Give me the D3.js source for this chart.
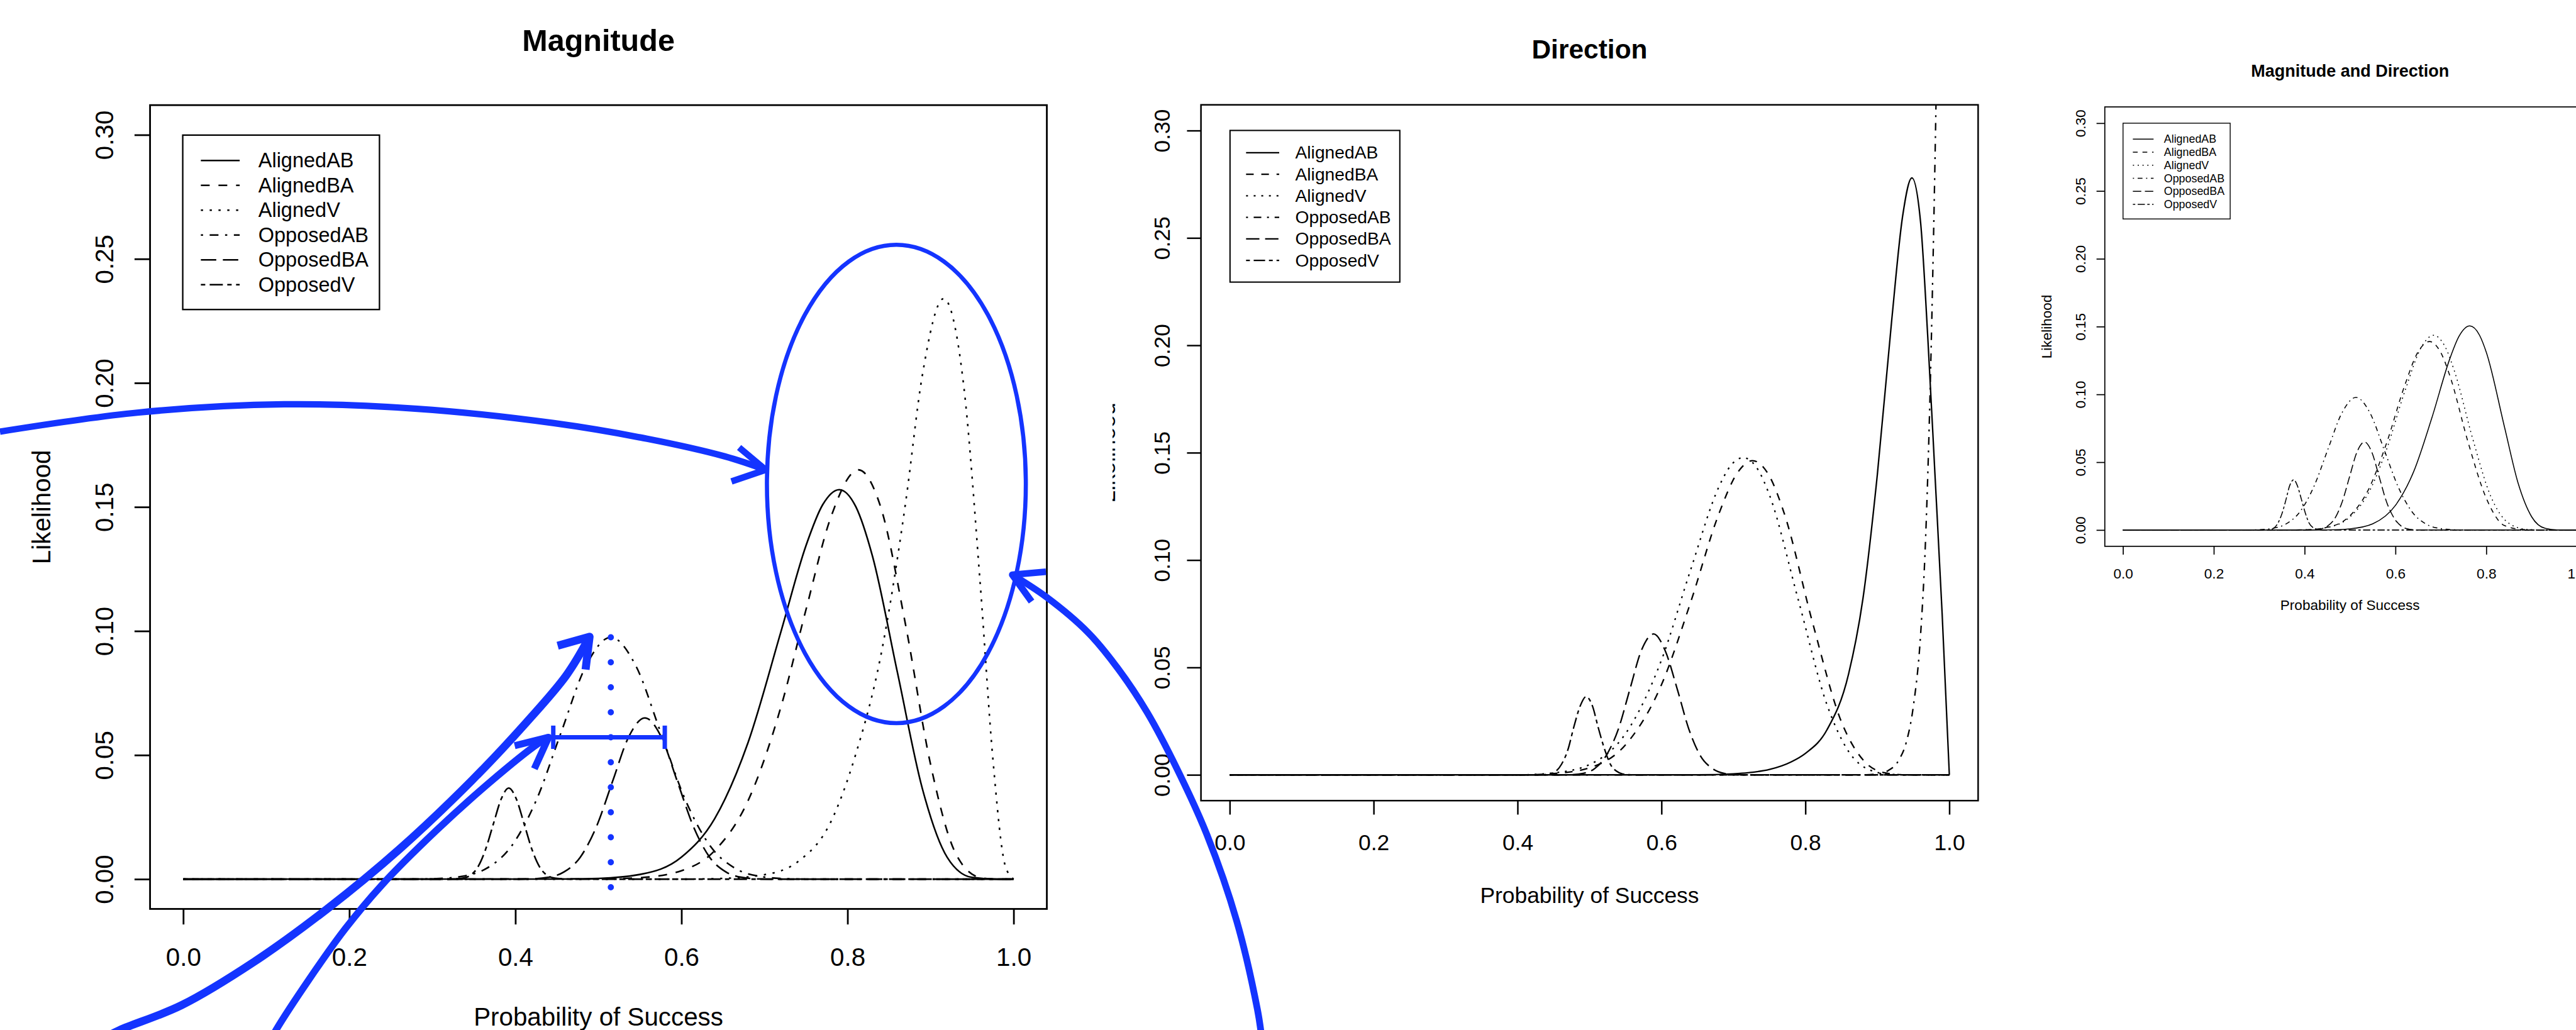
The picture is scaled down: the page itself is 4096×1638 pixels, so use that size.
<!DOCTYPE html>
<html>
<head>
<meta charset="utf-8">
<script src="https://cdn.jsdelivr.net/npm/d3@7"></script>
<style>html,body{margin:0;padding:0;background:#fff;overflow:hidden}</style>
</head>
<body>
<script>
// ---------------- DATA ----------------
const panelTitles = ["Magnitude", "Direction", "Magnitude and Direction"];
const seriesNames = ["AlignedAB", "AlignedBA", "AlignedV", "OpposedAB", "OpposedBA", "OpposedV"];
const xTicks = [0, 0.2, 0.4, 0.6, 0.8, 1.0];
const yTicks = [0, 0.05, 0.10, 0.15, 0.20, 0.25, 0.30];
const xLabel = "Probability of Success";
const yLabel = "Likelihood";

// Panel 1: Magnitude  [probability, likelihood]
const magAlignedAB = [[0,0],[0.45,0.00003],[0.5,0.0003],[0.55,0.0019],[0.6,0.0089],[0.64,0.0244],[0.68,0.0549],[0.72,0.100],[0.75,0.1345],[0.77,0.1509],[0.79,0.157],[0.81,0.1501],[0.83,0.1302],[0.86,0.0834],[0.89,0.0366],[0.92,0.0088],[0.95,0.0007],[0.98,0],[1,0]];
const magAlignedBA = [[0,0],[0.5,0.0001],[0.55,0.0006],[0.6,0.0034],[0.64,0.0115],[0.68,0.0315],[0.72,0.0697],[0.75,0.1087],[0.78,0.146],[0.813,0.165],[0.84,0.1499],[0.87,0.1023],[0.9,0.0462],[0.93,0.0105],[0.96,0.0006],[0.98,0],[1,0]];
const magAlignedV = [[0,0],[0.6,0],[0.65,0.0003],[0.7,0.0018],[0.74,0.007],[0.78,0.0232],[0.81,0.0505],[0.84,0.090],[0.87,0.152],[0.89,0.203],[0.9157,0.234],[0.94,0.1986],[0.96,0.118],[0.975,0.0485],[0.99,0.0053],[1,0]];
const magOpposedAB = [[0,0],[0.275,0],[0.305,0.0002],[0.335,0.0011],[0.365,0.0043],[0.395,0.0132],[0.425,0.0317],[0.455,0.0591],[0.485,0.086],[0.515,0.0975],[0.545,0.086],[0.575,0.0591],[0.605,0.0317],[0.635,0.0132],[0.665,0.0043],[0.695,0.0011],[0.725,0.0002],[0.755,0],[1,0]];
const magOpposedBA = [[0,0],[0.4,0],[0.42,0.0001],[0.439,0.0007],[0.4585,0.0029],[0.478,0.0088],[0.4975,0.0211],[0.517,0.0394],[0.5365,0.0574],[0.556,0.065],[0.5755,0.0574],[0.595,0.0394],[0.6145,0.0211],[0.634,0.0088],[0.6535,0.0029],[0.673,0.0007],[0.6925,0.0001],[0.712,0],[1,0]];
const magOpposedV = [[0,0],[0.318,0],[0.327,0.0001],[0.3365,0.0004],[0.346,0.0016],[0.355,0.005],[0.364,0.0119],[0.3735,0.0223],[0.383,0.0324],[0.392,0.0367],[0.401,0.0324],[0.4105,0.0223],[0.42,0.0119],[0.429,0.005],[0.438,0.0016],[0.4475,0.0004],[0.457,0.0001],[0.466,0],[1,0]];

// Panel 2: Direction
const dirAlignedAB = [[0,0],[0.65,0],[0.7,0.0005],[0.72,0.001],[0.75,0.0025],[0.78,0.006],[0.8,0.01],[0.83,0.021],[0.86,0.047],[0.88,0.0822],[0.9,0.14],[0.92,0.212],[0.935,0.26],[0.948,0.278],[0.96,0.2574],[0.97,0.204],[0.98,0.14],[0.99,0.075],[1,0]];
const dirAlignedBA = [[0,0],[0.4,0],[0.45,0.0006],[0.5,0.0033],[0.55,0.014],[0.6,0.042],[0.64,0.0799],[0.68,0.1218],[0.705,0.1404],[0.7265,0.1463],[0.75,0.1391],[0.77,0.1223],[0.81,0.0708],[0.85,0.0247],[0.88,0.007],[0.91,0.001],[0.94,0],[1,0]];
const dirAlignedV = [[0,0],[0.4,0],[0.45,0.0009],[0.5,0.0048],[0.55,0.0192],[0.6,0.0535],[0.64,0.095],[0.68,0.1343],[0.695,0.1435],[0.7138,0.1477],[0.735,0.1416],[0.75,0.1303],[0.79,0.0816],[0.83,0.0326],[0.86,0.0109],[0.89,0.0022],[0.92,0.0002],[0.95,0],[1,0]];
const dirOpposedAB = [[0,0],[0.88,0],[0.9,0.0004],[0.915,0.002],[0.93,0.007],[0.94,0.015],[0.95,0.032],[0.96,0.065],[0.967,0.11],[0.973,0.175],[0.98,0.285],[0.99,0.5],[1,0.75]];
const dirOpposedBA = [[0,0],[0.458,0],[0.474,0.0001],[0.491,0.0007],[0.507,0.0029],[0.523,0.0089],[0.54,0.0213],[0.556,0.0398],[0.572,0.0579],[0.589,0.0656],[0.605,0.0579],[0.622,0.0398],[0.638,0.0213],[0.654,0.0089],[0.671,0.0029],[0.687,0.0007],[0.703,0.0001],[0.72,0],[1,0]];
const dirOpposedV = [[0,0],[0.427,0],[0.436,0.0001],[0.444,0.0004],[0.453,0.0016],[0.461,0.0049],[0.47,0.0118],[0.478,0.0221],[0.487,0.0321],[0.495,0.0364],[0.504,0.0321],[0.512,0.0221],[0.521,0.0118],[0.529,0.0049],[0.538,0.0016],[0.546,0.0004],[0.555,0.0001],[0.563,0],[1,0]];

// Panel 3: Magnitude and Direction
const bothAlignedAB = [[0,0],[0.4,0],[0.45,0.0001],[0.5,0.0009],[0.55,0.0046],[0.6,0.0182],[0.64,0.043],[0.68,0.0826],[0.72,0.1266],[0.74,0.1429],[0.7636,0.1505],[0.785,0.1437],[0.8,0.1311],[0.84,0.076],[0.87,0.0346],[0.9,0.0097],[0.93,0.0012],[0.96,0],[1,0]];
const bothAlignedBA = [[0,0],[0.35,0],[0.4,0.0002],[0.45,0.002],[0.5,0.0106],[0.54,0.0295],[0.58,0.0637],[0.62,0.1063],[0.65,0.1315],[0.675,0.139],[0.7,0.1307],[0.72,0.1135],[0.76,0.0646],[0.8,0.0234],[0.84,0.0033],[0.88,0.0004],[0.92,0],[1,0]];
const bothAlignedV = [[0,0],[0.35,0],[0.4,0.0002],[0.45,0.0019],[0.5,0.0097],[0.54,0.027],[0.58,0.0591],[0.62,0.1017],[0.66,0.1366],[0.684,0.1436],[0.71,0.1347],[0.73,0.117],[0.77,0.0674],[0.81,0.0247],[0.85,0.0049],[0.89,0.0004],[0.93,0],[1,0]];
const bothOpposedAB = [[0,0],[0.265,0],[0.296,0.0002],[0.327,0.0011],[0.358,0.0043],[0.389,0.0132],[0.42,0.0318],[0.451,0.0593],[0.482,0.0863],[0.513,0.0978],[0.544,0.0863],[0.575,0.0593],[0.606,0.0318],[0.637,0.0132],[0.668,0.0043],[0.699,0.0011],[0.73,0.0002],[0.761,0],[1,0]];
const bothOpposedBA = [[0,0],[0.4,0],[0.418,0.0001],[0.434,0.0007],[0.45,0.0028],[0.467,0.0088],[0.483,0.0211],[0.499,0.0394],[0.515,0.0573],[0.532,0.0649],[0.548,0.0573],[0.564,0.0394],[0.58,0.0211],[0.597,0.0088],[0.613,0.0028],[0.629,0.0007],[0.645,0.0001],[0.662,0],[1,0]];
const bothOpposedV = [[0,0],[0.307,0],[0.315,0.0001],[0.324,0.0004],[0.333,0.0016],[0.341,0.005],[0.35,0.012],[0.359,0.0225],[0.367,0.0327],[0.376,0.0371],[0.384,0.0327],[0.393,0.0225],[0.402,0.012],[0.41,0.005],[0.419,0.0016],[0.428,0.0004],[0.436,0.0001],[0.445,0],[1,0]];

// Hand-drawn blue annotations on panel 1, in that panel's data units [probability, likelihood]
const annArrowTop = [[-0.2207,0.1804],[-0.0536,0.1881],[0.1216,0.1914],[0.2818,0.1896],[0.4464,0.1838],[0.5586,0.1775],[0.6521,0.1704],[0.7014,0.1650]];
const annArrowTopHead = [[0.6694,0.1740],[0.7014,0.1650],[0.6602,0.1603]];
const annArrowRight = [[1.2980,-0.0619],[1.2936,-0.0525],[1.2686,-0.0168],[1.2328,0.0179],[1.1970,0.0443],[1.1612,0.0670],[1.1254,0.0850],[1.0897,0.0994],[1.0395,0.1137],[0.9984,0.1227]];
const annArrowRightHead = [[1.0389,0.1239],[0.9984,0.1227],[1.0216,0.1119]];
const annArrowLong = [[-0.095,-0.064],[-0.0764,-0.0608],[-0.0020,-0.0508],[0.0854,-0.0333],[0.1729,-0.0121],[0.2604,0.0121],[0.3479,0.0399],[0.4135,0.0633],[0.4616,0.0823],[0.4893,0.0977]];
const annArrowLongHead = [[0.4509,0.0941],[0.4893,0.0977],[0.4845,0.0845]];
const annArrowShort = [[0.100,-0.068],[0.1117,-0.0608],[0.1511,-0.0406],[0.1948,-0.0201],[0.2385,-0.0026],[0.3041,0.0194],[0.3697,0.0392],[0.4266,0.0545],[0.4400,0.0572]];
const annArrowShortHead = [[0.3991,0.0538],[0.4400,0.0572],[0.4228,0.0445]];
const annEllipse = [0.8588, 0.1593, 0.1559, 0.0964]; // centre p, centre L, radius p, radius L
const annBar = [0.4456, 0.5799, 0.0572, 0.0047];    // from p, to p, at L, cap half-height
const annDots = [0.5149, 0.0975, -0.0133];          // at p, from L, to L

// ---------------- LAYOUT / STYLE ----------------
const FONT = "'Liberation Sans', Arial, Helvetica, sans-serif";
const S = 4096 / 4976;
const BLUE = "#1434ff";
const ltyUnits = ["", "4 4", "1 3", "1 3 4 3", "7 3", "2 2 6 2"];
function dashArray(j, u) { return ltyUnits[j] ? ltyUnits[j].split(" ").map(v => +v * u).join(" ") : null; }

const panels = [
  { title: panelTitles[0], series: [magAlignedAB, magAlignedBA, magAlignedV, magOpposedAB, magOpposedBA, magOpposedV],
    x0: 354, xPer: 1604, y0: 1698.5, yPer: 4793, font: 49, titleFont: 59, titleBase: 99,
    lw: 3.1, boxW: 3.4, tick: 30, dash: 4.25, yLabBase: 219, xLabBase: 1866, xTitleBase: 1982, yTitleBase: 97, yTitleClip: null,
    leg: { x: 353, y: 261, w: 380, h: 337, row0: 310, step: 48, l1: 388, l2: 463, tx: 499, font: 39.5, bw: 2.8 } },
  { title: panelTitles[1], series: [dirAlignedAB, dirAlignedBA, dirAlignedV, dirOpposedAB, dirOpposedBA, dirOpposedV],
    x0: 2375.5, xPer: 1390, y0: 1497, yPer: 4149, font: 43, titleFont: 51.6, titleBase: 113,
    lw: 2.8, boxW: 3, tick: 27, dash: 3.68, yLabBase: 2260, xLabBase: 1642, xTitleBase: 1745, yTitleBase: 2154, yTitleClip: 2149,
    leg: { x: 2376, y: 252, w: 328, h: 293, row0: 295, step: 41.6, l1: 2407, l2: 2471, tx: 2502, font: 34.3, bw: 2.5 } },
  { title: panelTitles[2], series: [bothAlignedAB, bothAlignedBA, bothAlignedV, bothOpposedAB, bothOpposedBA, bothOpposedV],
    x0: 4100.9, xPer: 877.3, y0: 1024, yPer: 2620, font: 27.4, titleFont: 32.8, titleBase: 148,
    lw: 1.9, boxW: 2.1, tick: 16, dash: 2.32, yLabBase: 4029, xLabBase: 1117.5, xTitleBase: 1178.6, yTitleBase: 3963, yTitleClip: null,
    leg: { x: 4101, y: 238, w: 207, h: 185, row0: 268.8, step: 25.2, l1: 4120, l2: 4160, tx: 4180, font: 21.7, bw: 1.7 } }
];

const svg = d3.select("body").append("svg").attr("width", 4096).attr("height", 1638);
svg.append("rect").attr("width", 4096).attr("height", 1638).attr("fill", "#fff");
const defs = svg.append("defs");
const root = svg.append("g").attr("transform", `scale(${S})`);

let scales1 = null;

panels.forEach((cfg, i) => {
  const x = d3.scaleLinear().domain([-0.04, 1.04]).range([cfg.x0 - 0.04 * cfg.xPer, cfg.x0 + 1.04 * cfg.xPer]);
  const y = d3.scaleLinear().domain([-0.012, 0.312]).range([cfg.y0 + 0.012 * cfg.yPer, cfg.y0 - 0.312 * cfg.yPer]);
  if (i === 0) scales1 = { x, y };
  const [bx0, bx1] = x.range();
  const [by1, by0] = y.range();
  const cx = (bx0 + bx1) / 2, cy = (by0 + by1) / 2;
  const g = root.append("g");

  // clip region = plot region
  const cid = "plotclip" + i;
  defs.append("clipPath").attr("id", cid).append("rect")
    .attr("x", bx0).attr("y", by0).attr("width", bx1 - bx0).attr("height", by1 - by0);

  // curves
  const line = d3.line().x(d => x(d[0])).y(d => y(d[1])).curve(d3.curveMonotoneX);
  g.append("g").attr("clip-path", `url(#${cid})`)
    .selectAll("path").data(cfg.series).join("path")
    .attr("d", d => line(d))
    .attr("fill", "none").attr("stroke", "#000")
    .attr("stroke-width", cfg.lw)
    .attr("stroke-linejoin", "round")
    .attr("stroke-dasharray", (d, j) => dashArray(j, cfg.dash));

  // box
  g.append("rect").attr("x", bx0).attr("y", by0).attr("width", bx1 - bx0).attr("height", by1 - by0)
    .attr("fill", "none").attr("stroke", "#000").attr("stroke-width", cfg.boxW);

  // x axis
  const xa = g.append("g").attr("transform", `translate(0,${by1})`)
    .call(d3.axisBottom(x).tickValues(xTicks).tickFormat(d3.format(".1f")).tickSize(cfg.tick).tickSizeOuter(0));
  xa.select(".domain").remove();
  xa.attr("font-size", null).attr("font-family", null);
  xa.selectAll(".tick line").attr("stroke", "#000").attr("stroke-width", cfg.boxW);
  xa.selectAll(".tick text").attr("y", cfg.xLabBase - by1).attr("dy", null)
    .attr("fill", "#000").attr("font-size", cfg.font).attr("font-family", FONT);

  // y axis
  const ya = g.append("g").attr("transform", `translate(${bx0},0)`)
    .call(d3.axisLeft(y).tickValues(yTicks).tickFormat(d3.format(".2f")).tickSize(cfg.tick).tickSizeOuter(0));
  ya.select(".domain").remove();
  ya.attr("font-size", null).attr("font-family", null);
  ya.selectAll(".tick line").attr("stroke", "#000").attr("stroke-width", cfg.boxW);
  ya.selectAll(".tick text").attr("x", null).attr("dy", null).attr("text-anchor", "middle")
    .attr("transform", `translate(${cfg.yLabBase - bx0},0) rotate(-90)`)
    .attr("fill", "#000").attr("font-size", cfg.font).attr("font-family", FONT);

  // titles
  g.append("text").attr("x", cx).attr("y", cfg.titleBase).attr("text-anchor", "middle")
    .attr("font-family", FONT).attr("font-weight", "bold").attr("font-size", cfg.titleFont).attr("fill", "#000")
    .text(cfg.title);
  g.append("text").attr("x", cx).attr("y", cfg.xTitleBase).attr("text-anchor", "middle")
    .attr("font-family", FONT).attr("font-size", cfg.font).attr("fill", "#000").text(xLabel);
  const yt = g.append("g");
  if (cfg.yTitleClip !== null) {
    const yid = "ylabclip" + i;
    defs.append("clipPath").attr("id", yid).append("rect")
      .attr("x", cfg.yTitleClip).attr("y", 0).attr("width", bx0 - cfg.yTitleClip).attr("height", 1990);
    yt.attr("clip-path", `url(#${yid})`);
  }
  yt.append("text").attr("transform", `translate(${cfg.yTitleBase},${cy}) rotate(-90)`).attr("text-anchor", "middle")
    .attr("font-family", FONT).attr("font-size", cfg.font).attr("fill", "#000").text(yLabel);

  // legend
  const L = cfg.leg;
  const lg = g.append("g");
  lg.append("rect").attr("x", L.x).attr("y", L.y).attr("width", L.w).attr("height", L.h)
    .attr("fill", "#fff").attr("stroke", "#000").attr("stroke-width", L.bw);
  seriesNames.forEach((name, j) => {
    const ry = L.row0 + j * L.step;
    lg.append("line").attr("x1", L.l1).attr("x2", L.l2).attr("y1", ry).attr("y2", ry)
      .attr("stroke", "#000").attr("stroke-width", cfg.lw).attr("stroke-dasharray", dashArray(j, cfg.dash));
    lg.append("text").attr("x", L.tx).attr("y", ry + 0.34 * L.font)
      .attr("font-family", FONT).attr("font-size", L.font).attr("fill", "#000").text(name);
  });
});

// ---------------- BLUE ANNOTATIONS (panel 1 scales) ----------------
{
  const { x, y } = scales1;
  const ann = root.append("g");
  const curve = d3.line().x(d => x(d[0])).y(d => y(d[1])).curve(d3.curveCatmullRom.alpha(0.5));
  const straight = d3.line().x(d => x(d[0])).y(d => y(d[1]));
  const arrows = [
    [annArrowTop, annArrowTopHead, 12.5],
    [annArrowRight, annArrowRightHead, 13],
    [annArrowLong, annArrowLongHead, 15.5],
    [annArrowShort, annArrowShortHead, 13.5]
  ];
  arrows.forEach(([shaft, head, w]) => {
    ann.append("path").attr("d", curve(shaft)).attr("fill", "none").attr("stroke", BLUE)
      .attr("stroke-width", w).attr("stroke-linecap", "butt");
    ann.append("path").attr("d", straight(head)).attr("fill", "none").attr("stroke", BLUE)
      .attr("stroke-width", w).attr("stroke-linejoin", "round").attr("stroke-linecap", "butt");
  });
  const [ep, eL, erp, erL] = annEllipse;
  ann.append("ellipse").attr("cx", x(ep)).attr("cy", y(eL))
    .attr("rx", x(ep + erp) - x(ep)).attr("ry", y(eL) - y(eL + erL))
    .attr("fill", "none").attr("stroke", BLUE).attr("stroke-width", 8);
  const [b0, b1, bL, bc] = annBar;
  ann.append("path").attr("d", straight([[b0, bL], [b1, bL]])).attr("stroke", BLUE).attr("stroke-width", 8.5);
  [b0, b1].forEach(bp => ann.append("path").attr("d", straight([[bp, bL - bc], [bp, bL + bc]]))
    .attr("stroke", BLUE).attr("stroke-width", 8.5));
  const [dp, dL0, dL1] = annDots;
  ann.append("path").attr("d", straight([[dp, dL0], [dp, dL1]])).attr("stroke", BLUE)
    .attr("stroke-width", 12).attr("stroke-linecap", "round").attr("stroke-dasharray", "0 48.3");
}
</script>
</body>
</html>
